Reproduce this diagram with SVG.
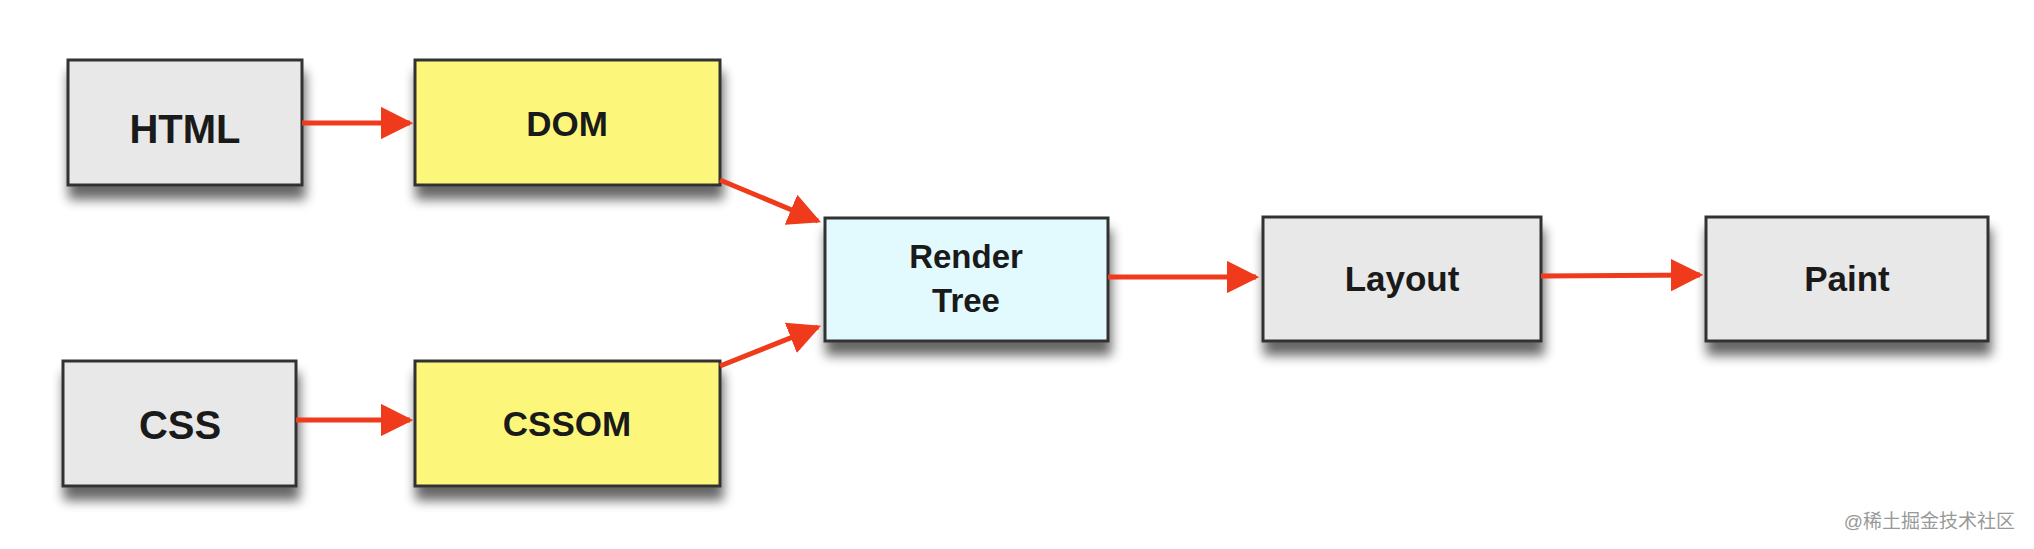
<svg xmlns="http://www.w3.org/2000/svg" width="2034" height="549" viewBox="0 0 2034 549">
<defs>
<filter id="sh" x="-10%" y="-10%" width="130%" height="150%"><feGaussianBlur in="SourceAlpha" stdDeviation="6"/><feOffset dx="2" dy="13"/><feComponentTransfer><feFuncA type="linear" slope="0.6"/></feComponentTransfer><feMerge><feMergeNode/><feMergeNode in="SourceGraphic"/></feMerge></filter>
<marker id="ah" viewBox="0 0 10 10" refX="9" refY="5" markerWidth="6.5" markerHeight="6.5" orient="auto" markerUnits="strokeWidth"><path d="M0,0 L10,5 L0,10 z" fill="#f03a1c"/></marker>
</defs>
<style>
.b{stroke:#333;stroke-width:3;filter:url(#sh)}
.g{fill:#e8e8e8}.y{fill:#fcf77a}.c{fill:#e2f9fd}
text{font-family:"Liberation Sans",Arial,sans-serif;font-weight:bold;fill:#1a1a1a;text-anchor:middle}
.c1 line{stroke:#f03a1c;stroke-width:5;marker-end:url(#ah)}
</style>
<rect width="2034" height="549" fill="#fff"/>
<g id="html"><rect class="b g" x="68" y="60" width="234" height="125"/><text x="185" y="143" font-size="40">HTML</text></g>
<g id="dom"><rect class="b y" x="415" y="60" width="305" height="125"/><text x="567" y="136" font-size="35">DOM</text></g>
<g id="css"><rect class="b g" x="63" y="361" width="233" height="125"/><text x="180" y="439" font-size="40">CSS</text></g>
<g id="cssom"><rect class="b y" x="415" y="361" width="305" height="125"/><text x="567" y="436" font-size="35">CSSOM</text></g>
<g id="render"><rect class="b c" x="825" y="218" width="283" height="123"/><text x="966" y="268" font-size="33">Render</text><text x="966" y="312" font-size="33">Tree</text></g>
<g id="layout"><rect class="b g" x="1263" y="217" width="278" height="124"/><text x="1402" y="291" font-size="35">Layout</text></g>
<g id="paint"><rect class="b g" x="1706" y="217" width="282" height="124"/><text x="1847" y="291" font-size="35">Paint</text></g>
<g class="c1" id="connectors">
<line x1="302" y1="123" x2="410" y2="123"/>
<line x1="296" y1="420" x2="410" y2="420"/>
<line x1="720" y1="180" x2="818" y2="221"/>
<line x1="720" y1="366" x2="818" y2="327"/>
<line x1="1108" y1="277" x2="1256" y2="277"/>
<line x1="1541" y1="276" x2="1700" y2="275"/>
</g>
<text x="2015" y="528" font-size="19" style="font-weight:normal;fill:#999;text-anchor:end;font-family:'Liberation Sans','Noto Sans CJK SC',sans-serif">@稀土掘金技术社区</text>
</svg>
